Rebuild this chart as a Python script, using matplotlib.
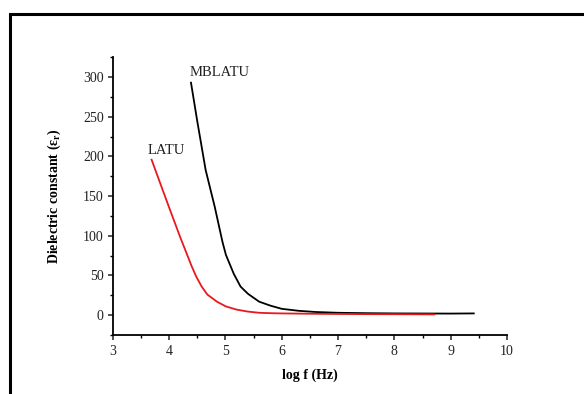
import matplotlib
matplotlib.use("Agg")
from matplotlib import pyplot as plt
from matplotlib.lines import Line2D
from matplotlib.ticker import MultipleLocator

# Data
latu_x = [3.69, 3.85, 4.0, 4.2, 4.4, 4.48, 4.58, 4.68, 4.85, 5.01, 5.2, 5.4, 5.6, 5.8, 6.0, 6.5, 7.0, 7.5, 8.0, 8.71]
latu_y = [196, 165, 136, 98, 62, 49, 36, 26, 17, 11, 7, 4.5, 3, 2.5, 2.2, 1.8, 1.5, 1.3, 1.2, 1.0]

mblatu_x = [4.39, 4.5, 4.65, 4.81, 4.95, 5.01, 5.15, 5.27, 5.4, 5.6, 5.8, 6.0, 6.3, 6.6, 7.0, 7.5, 8.0, 8.5, 9.0, 9.41]
mblatu_y = [293, 245, 183, 137, 92, 76, 52, 36, 27, 17, 12, 8, 5.5, 4, 3, 2.5, 2.2, 2.1, 2.0, 2.2]

x_ticks = [3, 4, 5, 6, 7, 8, 9, 10]
y_ticks = [0, 50, 100, 150, 200, 250, 300]

plt.rcParams['font.family'] = ['Liberation Serif', 'DejaVu Serif']

fig = plt.figure(figsize=(5.84, 3.94), dpi=100)
ax = fig.add_axes([112.7 / 584, 1 - 335 / 394, (507 - 112.7) / 584, (335 - 57.3) / 394])

ax.plot(mblatu_x, mblatu_y, color='black', lw=1.3)
ax.plot(latu_x, latu_y, color='#e8191c', lw=1.3)

ax.set_xlim(3, 10)
ax.set_ylim(-25, 325)
ax.set_xticks(x_ticks)
ax.set_yticks(y_ticks)
ax.xaxis.set_minor_locator(MultipleLocator(0.5))
ax.yaxis.set_minor_locator(MultipleLocator(25))

for side in ['top', 'right']:
    ax.spines[side].set_visible(False)
for side in ['left', 'bottom']:
    ax.spines[side].set_linewidth(1.3)

ax.tick_params(which='major', direction='out', length=3.5, width=1.1, labelsize=10, colors='#222222', pad=3)
ax.tick_params(axis='x', which='major', pad=4)
ax.tick_params(which='minor', direction='out', length=2.2, width=1.0)

ax.set_xlabel('log f (Hz)', fontweight='bold', fontsize=10, labelpad=7)
ax.set_ylabel(r'Dielectric constant ($\mathregular{\varepsilon_r}$)', fontweight='bold', fontsize=10, labelpad=14)

ax.text(4.36, 298, 'MBLATU', fontsize=10.5, color='#222222', va='bottom', ha='left')
ax.text(3.62, 199, 'LATU', fontsize=10.5, color='#222222', va='bottom', ha='left')

# Black frame on left and top edges of the picture
fx = 9.5 / 584
fy = 1 - 13.5 / 394
fig.add_artist(Line2D([fx, fx, 1], [0, fy, fy], transform=fig.transFigure,
                      color='black', lw=2.2, solid_joinstyle='miter'))

fig.savefig('out.png', dpi=100)
